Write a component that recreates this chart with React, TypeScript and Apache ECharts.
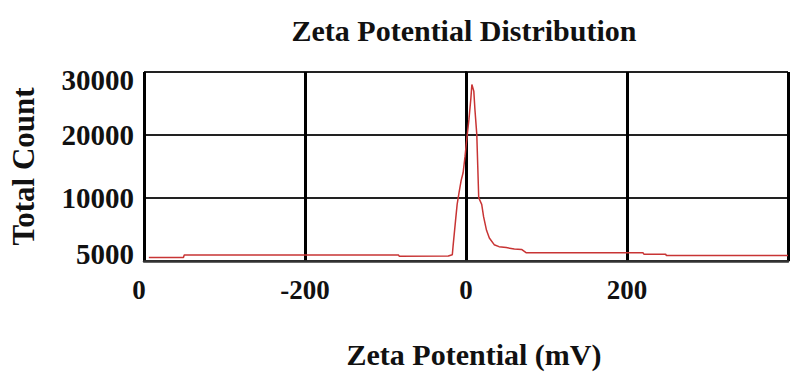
import React, { useEffect, useRef } from "react";
import * as echarts from "echarts";

const titleText = "Zeta Potential Distribution";
const xAxisName = "Zeta Potential (mV)";
const yAxisName = "Total Count";

// x tick values and the labels printed under them in the reference
const xTickValues = [-400, -200, 0, 200];
const xTickLabels = ["0", "-200", "0", "200"];
// y tick values and the labels printed beside them in the reference
const yTickValues = [0, 10000, 20000, 30000];
const yTickLabels = ["5000", "10000", "20000", "30000"];

// Zeta potential (mV)
const zetaMv = [
  -394, -351, -350, -84, -83, -22, -17, -16, -13, -11, -8.5, -6, -3.6, -1.2,
  1.2, 3.6, 6, 7.3, 9.7, 11, 13.4, 14.6, 15.8, 19.5, 21.9, 25.5, 29, 35, 41,
  50, 60, 69, 75, 220, 221, 248, 249, 400,
];
// Total count
const totalCount = [
  560, 560, 960, 960, 760, 800, 1000, 2440, 6400, 8990, 10970, 12790, 14010,
  16600, 19650, 22390, 25740, 28020, 26960, 24210, 20100, 15080, 10050, 8990,
  7000, 4870, 3650, 2590, 2280, 2130, 1900, 1830, 1300, 1300, 1070, 1070, 870,
  870,
];

const FONT = "'Liberation Serif', 'Times New Roman', serif";

export default function App() {
  const ref = useRef<HTMLDivElement>(null);
  useEffect(() => {
    if (!ref.current) return;
    const chart = echarts.init(ref.current, undefined, { renderer: "svg" });
    const seriesData = zetaMv.map((x, i) => [x, totalCount[i]]);
    const yLabelStyle = {
      fontFamily: FONT,
      fontWeight: "bold",
      fontSize: 29,
      color: "#111",
    };
    const xLabelStyle = {
      fontFamily: FONT,
      fontWeight: "bold",
      fontSize: 27,
      color: "#111",
    };
    chart.setOption({
      animation: false,
      backgroundColor: "#ffffff",
      title: {
        text: titleText,
        left: 459,
        top: 10,
        textAlign: "center",
        textStyle: {
          fontFamily: FONT,
          fontWeight: "bold",
          fontSize: 30,
          color: "#111",
        },
      },
      grid: { left: 138, top: 72, width: 657, height: 197, containLabel: false },
      xAxis: {
        type: "value",
        min: -400,
        max: 400,
        interval: 200,
        name: xAxisName,
        nameLocation: "middle",
        nameGap: 78,
        nameTextStyle: {
          fontFamily: FONT,
          fontWeight: "bold",
          fontSize: 30,
          color: "#111",
          padding: [0, 0, 0, 16],
        },
        axisLine: { show: true, onZero: false, lineStyle: { color: "#333", width: 2.5 } },
        axisTick: { show: false },
        splitLine: { show: true, lineStyle: { color: "#000", width: 3 } },
        axisLabel: {
          margin: 15,
          ...xLabelStyle,
          formatter: (v: number) => {
            const i = xTickValues.indexOf(v);
            if (i < 0) return "";
            if (i === 0) return "{first|" + xTickLabels[i] + "}";
            return xTickLabels[i];
          },
          rich: {
            first: { ...xLabelStyle, padding: [0, 10, 0, 0] },
          },
        },
      },
      yAxis: {
        type: "value",
        min: 0,
        max: 30000,
        interval: 10000,
        name: yAxisName,
        nameLocation: "middle",
        nameGap: 105,
        nameTextStyle: {
          fontFamily: FONT,
          fontWeight: "bold",
          fontSize: 31,
          color: "#111",
        },
        axisLine: { show: true, lineStyle: { color: "#000", width: 2 } },
        axisTick: { show: false },
        splitLine: { show: true, lineStyle: { color: "#222", width: 2 } },
        axisLabel: {
          margin: 10,
          ...yLabelStyle,
          formatter: (v: number) => {
            const i = yTickValues.indexOf(v);
            if (i < 0) return "";
            if (i === 0) return "{bot|" + yTickLabels[i] + "}";
            if (i === yTickValues.length - 1) return "{top|" + yTickLabels[i] + "}";
            return yTickLabels[i];
          },
          rich: {
            top: { ...yLabelStyle, padding: [16, 0, 0, 0] },
            bot: { ...yLabelStyle, padding: [0, 0, 14, 0] },
          },
        },
      },
      series: [
        {
          type: "line",
          data: seriesData,
          showSymbol: false,
          symbol: "none",
          lineStyle: { color: "#c83434", width: 1.5 },
          z: 5,
        },
      ],
    });
    return () => chart.dispose();
  }, []);
  return (
    <div
      ref={ref}
      style={{ position: "fixed", left: 0, top: 0, width: 791, height: 374 }}
    />
  );
}
